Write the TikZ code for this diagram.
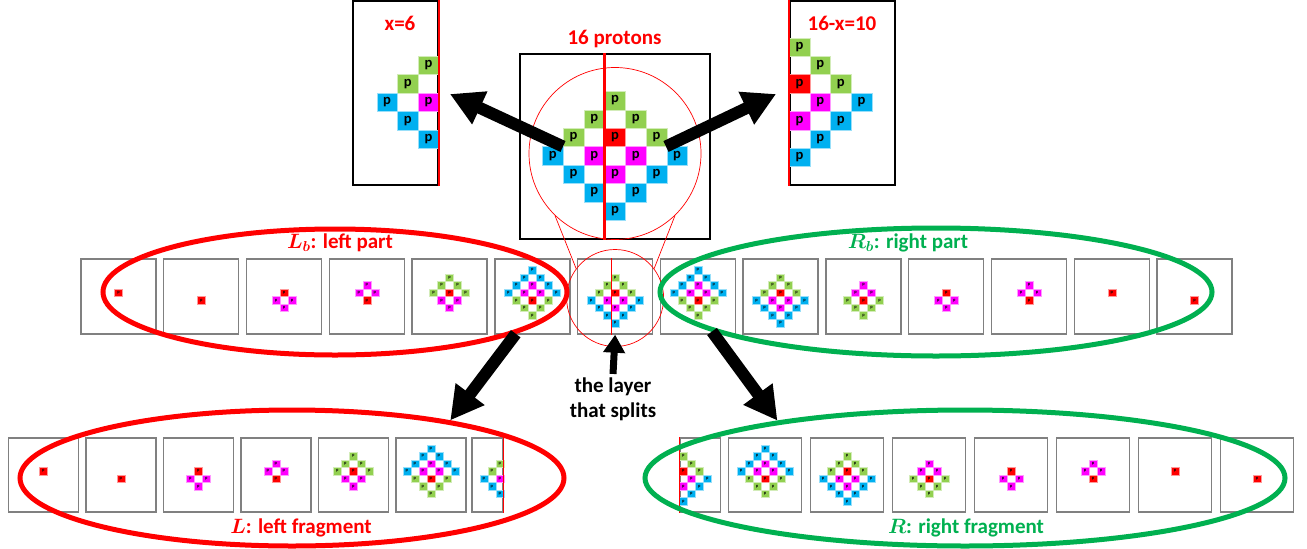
\documentclass[tikz,border=0pt]{standalone}
\usepackage{fontspec}
\setmainfont{Carlito}
\usepackage{bm}
\usetikzlibrary{shapes.geometric,arrows.meta,calc}

\definecolor{pg}{HTML}{92D050}
\definecolor{pr}{HTML}{FF0000}
\definecolor{pm}{HTML}{FF00FF}
\definecolor{pb}{HTML}{00B0F0}
\definecolor{eg}{HTML}{00B050}

% layers: column/row (in cells, rows downwards)/colour
\def\laya{0/-0.5/pr}
\def\layb{0/0.5/pr}
\def\layc{0/-0.5/pr, -1/0.5/pm, 1/0.5/pm, 0/1.5/pm}
\def\layd{0/0.5/pr, -1/-0.5/pm, 1/-0.5/pm, 0/-1.5/pm}
\def\laye{0/-2.5/pg, -1/-1.5/pg, 1/-1.5/pg, -2/-0.5/pg, 0/-0.5/pr, 2/-0.5/pg, -1/0.5/pm, 1/0.5/pm, 0/1.5/pm}
\def\layh{0/2.5/pg, -1/1.5/pg, 1/1.5/pg, -2/0.5/pg, 0/0.5/pr, 2/0.5/pg, -1/-0.5/pm, 1/-0.5/pm, 0/-1.5/pm}
\def\layf{0/-3.5/pb, -1/-2.5/pb, 1/-2.5/pb, -2/-1.5/pb, 0/-1.5/pm, 2/-1.5/pb, -3/-0.5/pb, -1/-0.5/pm, 1/-0.5/pm, 3/-0.5/pb, -2/0.5/pg, 0/0.5/pr, 2/0.5/pg, -1/1.5/pg, 1/1.5/pg, 0/2.5/pg}
\def\laygl{-1/-1.5/pg, -2/-0.5/pg, -3/0.5/pb, -1/0.5/pm, -2/1.5/pb, -1/2.5/pb}
\def\laygr{0/-2.5/pg, 1/-1.5/pg, 0/-0.5/pr, 2/-0.5/pg, 1/0.5/pm, 3/0.5/pb, 0/1.5/pm, 2/1.5/pb, 1/2.5/pb, 0/3.5/pb}
\def\layg{\laygl, \laygr}

\newcommand{\protons}[5]{%
  \edef\curpat{#5}\pgfmathsetmacro\pfs{0.8*#3-2}%
  \foreach \px/\py/\pc [count=\k] in \curpat
    \node[cell, fill=\pc, draw=\pc!40!white, minimum width=#3pt, minimum height=#4pt,
      font=\bfseries\fontsize{\pfs}{\pfs}\selectfont] (#1-\k) at ($(#2)+(\px*#3,\py*#4)$) {p};}

\begin{document}
\begin{tikzpicture}[x=1pt, y=-1pt,
  cell/.style={rectangle, inner sep=0pt, line width=0.4pt},
  topbox/.style={draw, line width=1.8pt, inner sep=0pt},
  layerbox/.style={draw=gray, line width=1.4pt, inner sep=0pt, minimum width=75pt, minimum height=75pt},
  lowbox/.style={draw=gray, line width=1.4pt, inner sep=0pt, minimum height=74pt},
  cut/.style={pr, line width=2.5pt},
  thincut/.style={pr, line width=1.2pt},
  lens/.style={circle, draw=pr, line width=0.7pt, inner sep=0pt},
  part/.style={ellipse, line width=5pt, inner sep=0pt},
  push/.style={line width=12pt, -{Triangle[length=33pt, width=34pt]}},
  lbl/.style={font=\bfseries\boldmath\fontsize{21}{25}\selectfont, align=center}]
\useasboundingbox (0,0) rectangle (1307,549);

\node[topbox, minimum width=190pt, minimum height=185pt] (big) at (615,146.5) {};
\protons{bc}{big}{20.7}{18.4}{\layg}
\draw[cut] ($(big.north)+(-10.35,0)$) -- ($(big.south)+(-10.35,0)$);
\node[topbox, minimum width=85pt, minimum height=184pt] (lt) at (395.5,93) {};
\coordinate (ltc) at ($(lt.east)+(10.35,0)$);
\protons{xc}{ltc}{20.7}{18.4}{\laygl}
\draw[cut] (lt.north east) -- (lt.south east);
\node[topbox, minimum width=105pt, minimum height=184pt] (rt) at (842.5,93) {};
\coordinate (rtc) at ($(rt.west)+(10.35,0)$);
\protons{yc}{rtc}{20.7}{18.4}{\laygr}
\draw[cut] (rt.north west) -- (rt.south west);
\node[lbl, text=pr] (nx) at (400,23) {x=6};
\node[lbl, text=pr] (ny) at (842,23) {16-x=10};
\node[lbl, text=pr] (np) at (614.5,39) {16 protons};
\node[lens, minimum size=172pt] (zc) at (615,153.5) {};

\foreach \pat [count=\i] in {\laya,\layb,\layc,\layd,\laye,\layf,\layg,\layf,\layg,\layh,\layc,\layd,\laya,\layb} {
  \node[layerbox] (m\i) at ({118.5+82.77*(\i-1)},296.5) {};
  \protons{mc\i}{m\i}{8}{7.56}{\pat}
}
\draw[thincut] ($(m7.north)+(-4,0)$) -- ($(m7.south)+(-4,0)$);
\node[lens, minimum size=97pt] (sc) at ($(m7)+(0,1.5)$) {};
\draw[lens] (zc.226) -- (sc.143);
\draw[lens] (zc.-46) -- (sc.37);

\foreach \pat [count=\i] in {\laya,\layb,\layc,\layd,\laye,\layf} {
  \node[lowbox, minimum width=70pt] (l\i) at ({43.3+77.5*(\i-1)},475) {};
  \protons{fl\i}{l\i}{8}{7.56}{\pat}
}
\node[lowbox, minimum width=31pt] (l7) at (487.5,475) {};
\coordinate (l7c) at ($(l7.east)+(4,0)$);
\protons{fl7}{l7c}{8}{7.56}{\laygl}
\draw[thincut] (l7.north east) -- (l7.south east);

\node[lowbox, minimum width=40.5pt] (r1) at (700.25,475) {};
\coordinate (r1c) at ($(r1.west)+(4,0)$);
\protons{fr1}{r1c}{8}{7.56}{\laygr}
\draw[thincut] (r1.north west) -- (r1.south west);
\foreach \pat [count=\i from 2] in {\layf,\layg,\layh,\layc,\layd,\laya,\layb} {
  \node[lowbox, minimum width=73pt] (r\i) at ({765+82*(\i-2)},475) {};
  \protons{fr\i}{r\i}{8}{7.56}{\pat}
}

\node[part, draw=pr, minimum width=464pt, minimum height=126pt] (Lb) at (335,292) {};
\node[part, draw=eg, minimum width=552pt, minimum height=128pt] (Rb) at (936,292) {};
\node[part, draw=pr, minimum width=544pt, minimum height=136pt] (L) at (292,478) {};
\node[part, draw=eg, minimum width=640pt, minimum height=136pt] (R) at (965,478) {};
\node[lbl, text=pr] (lbt) at (340,243) {$\bm{L_b}$: left part};
\node[lbl, text=eg] (rbt) at (908,243) {$\bm{R_b}$: right part};
\node[lbl, text=pr] (lft) at (301,528) {$\bm{L}$: left fragment};
\node[lbl, text=eg] (rft) at (966,528) {$\bm{R}$: right fragment};

\coordinate (la) at ($(big)+(-52,0)$);
\coordinate (lat) at ($(lt.east)+(11,1)$);
\coordinate (ra) at ($(big)+(51,0)$);
\coordinate (rat) at ($(rt.west)+(-13,1)$);
\draw[push] (la) -- (lat);
\draw[push] (ra) -- (rat);
\draw[push] (Lb.-13) -- (L.20);
\draw[push] (Rb.190) -- (R.163);
\node[lbl] (split) at (613,399) {the layer\\that splits};
\draw[line width=7pt, -{Triangle[length=18pt, width=21pt]}] (split.north) -- (m7.south);
\end{tikzpicture}
\end{document}
